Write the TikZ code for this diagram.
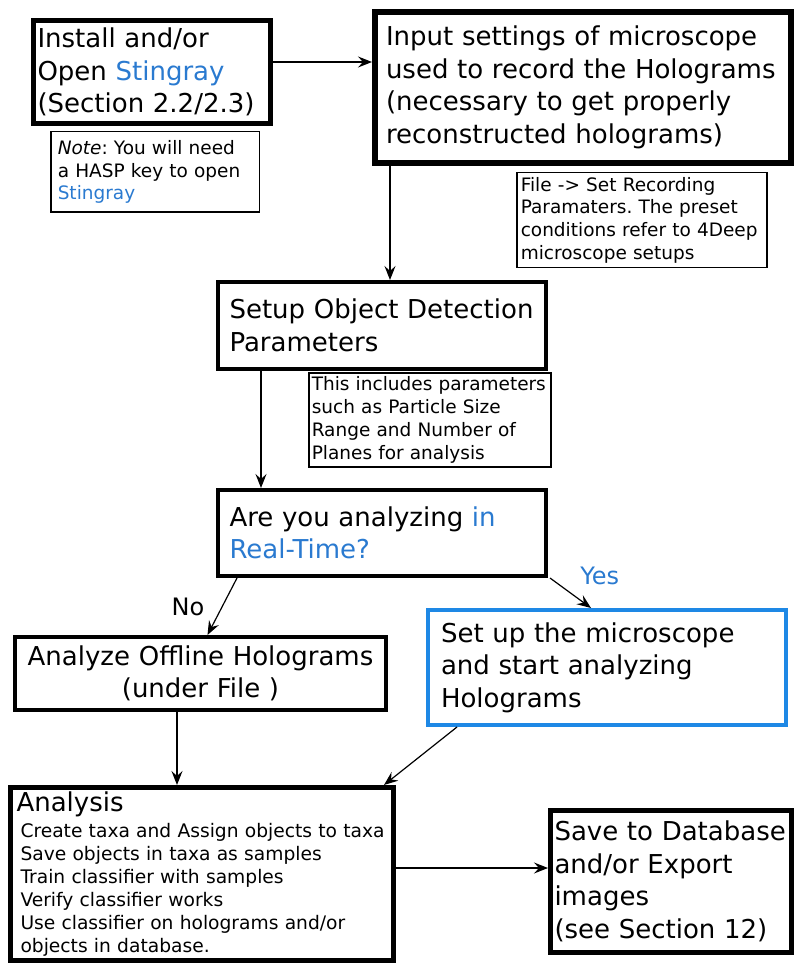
\documentclass[tikz,border=0pt]{standalone}
\usepackage{fontspec}
\setmainfont{DejaVu Sans}
\usepackage{tikz}
\usetikzlibrary{positioning}
\usetikzlibrary{arrows.meta}
\definecolor{stingblue}{RGB}{42,122,208}
\definecolor{frameblue}{RGB}{30,136,229}
\frenchspacing

\begin{document}
\begin{tikzpicture}[
  x=1pt, y=-1pt,
  proc/.style={draw, line width=4pt, anchor=north west, align=left, inner ysep=0pt,
    font=\fontsize{26}{32.5}\selectfont},
  note/.style={draw, line width=1.5pt, anchor=north west, align=left, inner ysep=0pt,
    font=\fontsize{18.5}{22.8}\selectfont},
  arr/.style={-{Stealth[length=14pt, width=11pt, inset=5pt]}, line width=1.2pt},
  lbl/.style={font=\fontsize{24}{28}\selectfont}
]
\useasboundingbox (0,0) rectangle (794,965);

% Top row
\node[proc, line width=5pt, minimum width=237, minimum height=103, inner xsep=4, text width=229]
  (inst) at (31,18) {Install and/or\\ Open \textcolor{stingblue}{Stingray}\\ (Section 2.2/2.3)};
\node[note, minimum width=208.5, minimum height=80.5, inner xsep=7, text width=194.5]
  (notehasp) at (50,131) {\textit{Note}: You will need\\ a HASP key to open\\ \textcolor{stingblue}{Stingray}};

\node[proc, line width=6pt, minimum width=416, minimum height=151, inner xsep=11, text width=394]
  (input) at (372,9) {Input settings of microscope\\ used to record the Holograms\\
  (necessary to get properly\\ reconstructed holograms)};
\node[note, minimum width=250, minimum height=95, inner xsep=4, text width=242]
  (noterec) at (516,172) {File -> Set Recording\\ Paramaters. The preset\\
  conditions refer to 4Deep\\ microscope setups};

% Middle
\node[proc, minimum width=328, minimum height=87, inner xsep=11.5, text width=305]
  (setup) at (216,280) {Setup Object Detection\\ Parameters};
\node[note, minimum width=242, minimum height=94, inner xsep=3, text width=236]
  (noteparam) at (308,372) {This includes parameters\\ such as Particle Size\\
  Range and Number of\\ Planes for analysis};

\node[proc, minimum width=328, minimum height=86, inner xsep=11.5, text width=305]
  (realtime) at (216,488) {Are you analyzing \textcolor{stingblue}{in}\\ \textcolor{stingblue}{Real-Time?}};

% Branches
\node[proc, minimum width=371, minimum height=73, inner xsep=8, text width=355, align=center]
  (offline) at (13,635) {Analyze Offline Holograms\\ (under File )};
\node[proc, draw=frameblue, minimum width=358, minimum height=115, inner xsep=13, text width=332]
  (liveset) at (426,608) {Set up the microscope\\ and start analyzing\\ Holograms};

% Bottom row
\node[proc, line width=5pt, minimum width=383, minimum height=173, inner xsep=6, text width=371,
  font=\fontsize{18.67}{23}\selectfont]
  (analysis) at (8,785) {{\fontsize{26}{30}\selectfont Analysis}\\[3pt]
  \hspace*{4pt}Create taxa and Assign objects to taxa\\
  \hspace*{4pt}Save objects in taxa as samples\\
  \hspace*{4pt}Train classifier with samples\\
  \hspace*{4pt}Verify classifier works\\
  \hspace*{4pt}Use classifier on holograms and/or\\
  \hspace*{4pt}objects in database.};
\node[proc, line width=5pt, minimum width=241, minimum height=142, inner xsep=4, text width=233]
  (savedb) at (548,808) {Save to Database\\ and/or Export\\ images\\ (see Section 12)};

% Connectors
\draw[arr] ([yshift=10]inst.east) -- ([yshift=10]inst.east -| input.west);
\draw[arr] ([xshift=18]input.south west) -- ([xshift=18]input.south west |- setup.north);
\draw[arr] ([xshift=45]setup.south west) -- ([xshift=45]setup.south west |- realtime.north);
\draw[arr] ([xshift=21]realtime.south west) -- node[lbl, midway, left=14pt] (no) {No}
  ([xshift=7]offline.north);
\draw[arr] ([xshift=2]realtime.south east) -- node[lbl, text=stingblue, midway, above right=4pt and 6pt] (yes) {Yes}
  ([xshift=165]liveset.north west);
\draw[arr] ([xshift=164]offline.south west) -- ([xshift=164]offline.south west |- analysis.north);
\draw[arr] ([xshift=31]liveset.south west) -- ([xshift=-12]analysis.north east);
\draw[arr] ([yshift=6]analysis.east) -- ([yshift=6]analysis.east -| savedb.west);
\end{tikzpicture}
\end{document}
